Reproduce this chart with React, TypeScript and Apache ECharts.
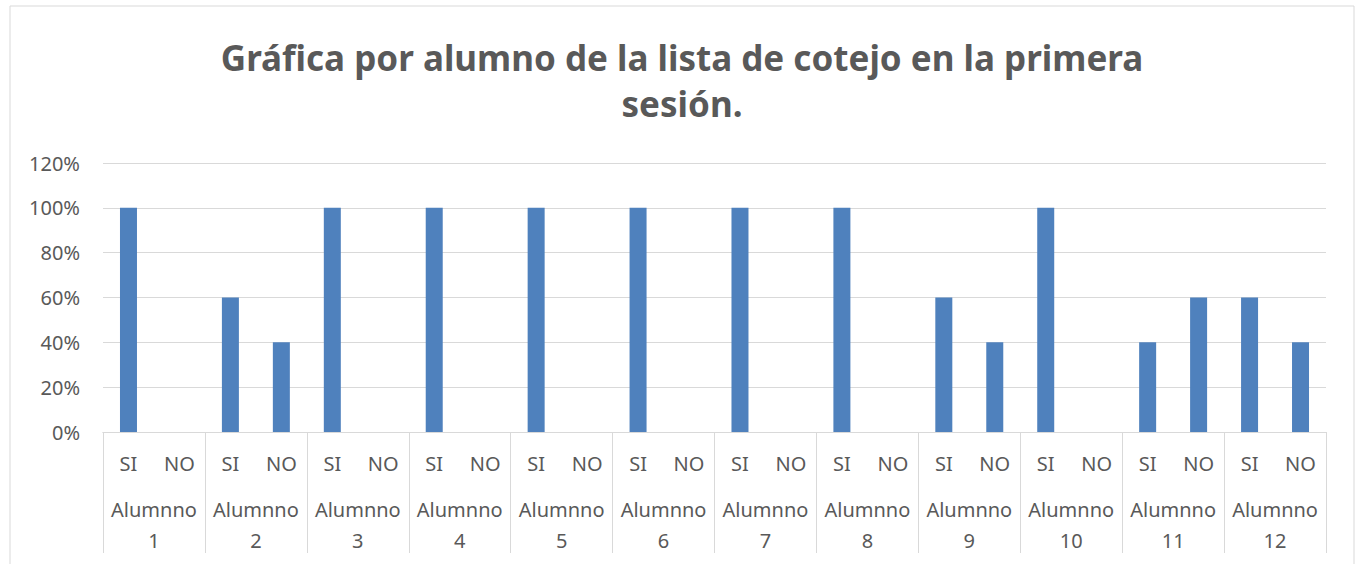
import React, { useEffect, useRef } from "react";
import * as echarts from "echarts";

const students = ["1", "2", "3", "4", "5", "6", "7", "8", "9", "10", "11", "12"];
const answerLabels = ["SI", "NO"];
const siValues = [100, 60, 100, 100, 100, 100, 100, 100, 60, 100, 40, 60];
const noValues = [0, 40, 0, 0, 0, 0, 0, 0, 40, 0, 60, 40];
const yTicks = [0, 20, 40, 60, 80, 100, 120];

const titleText = "Gráfica por alumno de la lista de cotejo en la primera\nsesión.";
const groupPrefix = "Alumnno";

export default function App() {
  const ref = useRef<HTMLDivElement>(null);

  useEffect(() => {
    if (!ref.current) return;
    const chart = echarts.init(ref.current, null, { renderer: "svg" });

    const subCats: string[] = [];
    const values: number[] = [];
    students.forEach((_, i) => {
      subCats.push(answerLabels[0]);
      values.push(siValues[i]);
      subCats.push(answerLabels[1]);
      values.push(noValues[i]);
    });
    const groupCats = students.map((s) => `${groupPrefix}\n${s}`);

    const font = "'Noto Sans', sans-serif";
    const textColor = "#595959";
    const lineColor = "#d9d9d9";

    chart.setOption({
      animation: false,
      backgroundColor: "#ffffff",
      title: {
        text: titleText,
        left: 682,
        top: 34,
        padding: 0,
        textAlign: "center",
        textStyle: {
          fontFamily: font,
          fontSize: 35,
          fontWeight: "bold",
          color: textColor,
          lineHeight: 46,
        },
      },
      graphic: [
        {
          type: "rect",
          shape: { x: 10, y: 6, width: 1344, height: 570 },
          style: { fill: "none", stroke: lineColor, lineWidth: 1 },
          silent: true,
        },
      ],
      grid: { left: 103, right: 30, top: 163, bottom: 132, containLabel: false },
      xAxis: [
        {
          type: "category",
          data: subCats,
          position: "bottom",
          axisLine: { show: true, lineStyle: { color: lineColor, width: 1 } },
          axisTick: { show: false },
          axisLabel: {
            interval: 0,
            margin: 21,
            fontFamily: font,
            fontSize: 20,
            color: textColor,
          },
        },
        {
          type: "category",
          data: groupCats,
          position: "bottom",
          axisLine: { show: true, lineStyle: { color: lineColor, width: 1 } },
          axisTick: { show: true, length: 121, lineStyle: { color: lineColor, width: 1 } },
          axisLabel: {
            interval: 0,
            margin: 62,
            fontFamily: font,
            fontSize: 20,
            lineHeight: 31,
            color: textColor,
          },
        },
      ],
      yAxis: {
        type: "value",
        min: yTicks[0],
        max: yTicks[yTicks.length - 1],
        interval: 20,
        axisLine: { show: false },
        axisTick: { show: false },
        splitLine: { lineStyle: { color: lineColor, width: 1 } },
        axisLabel: {
          formatter: "{value}%",
          margin: 23,
          fontFamily: font,
          fontSize: 20,
          color: textColor,
        },
      },
      series: [
        {
          type: "bar",
          xAxisIndex: 0,
          data: values,
          barWidth: 17,
          itemStyle: { color: "#4F81BD" },
        },
      ],
    });

    return () => chart.dispose();
  }, []);

  return (
    <div
      ref={ref}
      style={{ position: "fixed", left: 0, top: 0, width: 1356, height: 564 }}
    />
  );
}
